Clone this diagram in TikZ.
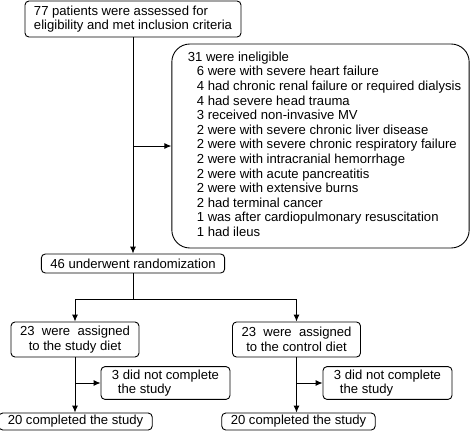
\documentclass[tikz,border=0pt]{standalone}
\usepackage{fontspec}
\setmainfont{Liberation Sans}
\usetikzlibrary{arrows.meta,calc}

\begin{document}
\begin{tikzpicture}[
  x=1pt,
  y=-1pt,
  font=\fontsize{13.1}{14.6}\selectfont,
  line width=0.9pt
]

  \tikzstyle{flowbox}=[draw,rectangle,rounded corners=4pt,align=left,inner xsep=9pt,inner ysep=3pt]
  \tikzstyle{assignbox}=[flowbox,align=center,minimum width=128pt,minimum height=35pt]
  \tikzstyle{dropbox}=[flowbox,minimum width=129pt,minimum height=32pt]
  \tikzstyle{donebox}=[flowbox,minimum width=149pt,minimum height=17pt,inner ysep=1pt]
  \tikzstyle{listbox}=[draw,rectangle,rounded corners=18pt,align=left,inner xsep=4pt,minimum width=297pt,minimum height=204pt]

  \tikzstyle{pointer}=[draw,-{Latex[length=7pt,width=6pt]}]

  \useasboundingbox (0,0) rectangle (474,432);

  % nodes
  \node[flowbox,minimum width=214pt,minimum height=36pt] (assessed) at (133,19)
    {77 patients were assessed for\\eligibility and met inclusion criteria};
  \node[listbox] (ineligible) at (320.5,146)
    {\begin{tabular}{@{\hspace{12pt}}l@{\hspace{4pt}}}
     31 were ineligible\\
     \hspace{9pt}6 were with severe heart failure\\
     \hspace{9pt}4 had chronic renal failure or required dialysis\\
     \hspace{9pt}4 had severe head trauma\\
     \hspace{9pt}3 received non-invasive MV\\
     \hspace{9pt}2 were with severe chronic liver disease\\
     \hspace{9pt}2 were with severe chronic respiratory failure\\
     \hspace{9pt}2 were with intracranial hemorrhage\\
     \hspace{9pt}2 were with acute pancreatitis\\
     \hspace{9pt}2 were with extensive burns\\
     \hspace{9pt}2 had terminal cancer\\
     \hspace{9pt}1 was after cardiopulmonary resuscitation\\
     \hspace{9pt}1 had ileus
     \end{tabular}};
  \node[flowbox,minimum width=181pt,minimum height=19pt,inner ysep=1pt] (randomized) at (133,263.5)
    {46 underwent randomization};

  \node[assignbox] (studyDiet) at (75,339.5) {23~~were~~assigned\\to the study diet};
  \node[assignbox] (controlDiet) at (296.5,339.5) {23~~were~~assigned\\to the control diet};

  \node[dropbox] (studyDrop) at (165.5,383) {3~did~not~complete\\\hspace*{6pt}the study};
  \node[dropbox] (controlDrop) at (387.5,383) {3~did~not~complete\\\hspace*{6pt}the study};

  \node[donebox] (studyDone) at (75.5,421.5) {20 completed the study};
  \node[donebox] (controlDone) at (298.5,421.5) {20 completed the study};

  % pointers
  \draw[pointer] (assessed.south) -- (randomized.north);
  \coordinate (toList) at (assessed.south |- ineligible.west);
  \draw[pointer] (toList) -- (ineligible.west);

  \draw (randomized.south) -- ++(0,26) coordinate (fork);
  \draw[pointer] (fork) -| (studyDiet.north);
  \draw[pointer] (fork) -| (controlDiet.north);

  \draw[pointer] (studyDiet.south) -- (studyDiet.south |- studyDone.north);
  \coordinate (studyOut) at (studyDiet.south |- studyDrop.west);
  \draw[pointer] (studyOut) -- (studyDrop.west);

  \draw[pointer] (controlDiet.south) -- (controlDiet.south |- controlDone.north);
  \coordinate (controlOut) at (controlDiet.south |- controlDrop.west);
  \draw[pointer] (controlOut) -- (controlDrop.west);

\end{tikzpicture}
\end{document}
